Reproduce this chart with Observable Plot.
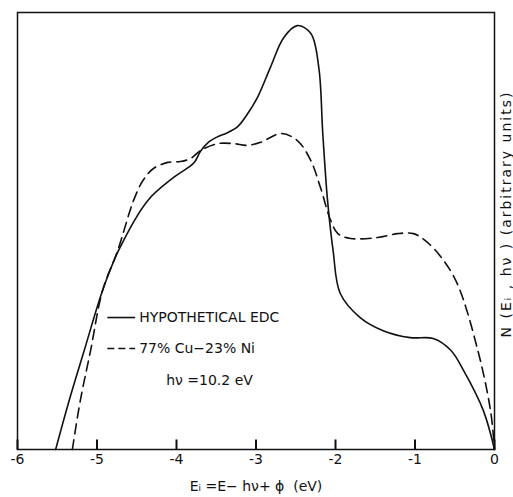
<!DOCTYPE html>
<html>
<head>
<meta charset="utf-8">
<script src="https://cdn.jsdelivr.net/npm/d3@7"></script>
<script src="https://cdn.jsdelivr.net/npm/@observablehq/plot@0.6"></script>
<style>
  body { margin: 0; background: #fff; }
  svg { font-family: "DejaVu Sans", sans-serif; }
</style>
</head>
<body>
<div id="chart"></div>
<script>
// Hypothetical EDC (solid)
const hypoE = [-5.52, -5.35, -5.16, -4.93, -4.73, -4.36, -4.04, -3.78, -3.70, -3.60, -3.48, -3.36, -3.23, -3.11, -2.97, -2.82, -2.65, -2.48, -2.31, -2.21, -2.16, -2.10, -2.03, -1.94, -1.69, -1.40, -1.06, -0.77, -0.55, -0.39, -0.14, 0];
const hypoN = [0, 11.2, 22.7, 36.4, 45.5, 57.0, 62.2, 65.6, 68.2, 70.3, 71.6, 72.5, 73.9, 76.7, 81.0, 87.4, 94.3, 97.0, 95.2, 87.4, 72.3, 57.0, 45.5, 35.7, 30.2, 27.2, 25.6, 25.4, 22.7, 18.1, 8.9, 0];
// 77% Cu - 23% Ni (dashed)
const alloyE = [-5.31, -5.21, -5.08, -4.93, -4.74, -4.54, -4.42, -4.29, -4.11, -3.95, -3.82, -3.70, -3.48, -3.28, -3.11, -2.94, -2.69, -2.48, -2.31, -2.19, -2.06, -1.97, -1.81, -1.47, -1.22, -1.02, -0.87, -0.68, -0.47, -0.21, -0.05, 0];
const alloyN = [0, 11.2, 22.7, 36.4, 45.5, 57.0, 61.6, 64.3, 65.7, 65.9, 66.6, 68.4, 70.0, 70.0, 69.6, 70.3, 72.3, 70.7, 66.1, 60.0, 52.4, 49.4, 48.3, 48.5, 49.4, 49.4, 47.8, 44.2, 38.0, 22.7, 8.9, 0];

const xTicks = [-6, -5, -4, -3, -2, -1, 0];
const legendLabels = ["HYPOTHETICAL EDC", "77% Cu\u221223% Ni", "h\u03BD =10.2 eV"];
const legendE = [-4.87, -4.52, -4.47, -3.04];
const legendN = [30.2, 23.1, 15.8];
const xLabel = "E\u1D62 =E\u2212 h\u03BD+ \u03D5  (eV)";
const yLabel = "N (E\u1D62 , h\u03BD ) (arbitrary units)";
const tickLength = 2.3; // in y units (about 10 px)

const hypo = hypoE.map((e, i) => ({E: e, N: hypoN[i]}));
const alloy = alloyE.map((e, i) => ({E: e, N: alloyN[i]}));
const tickRows = xTicks.map(t => ({E: t, lo: 0, hi: tickLength}));

const legendRows = [
  {x1: legendE[0], x2: legendE[1], y: legendN[0]},
  {x1: legendE[0], x2: legendE[1], y: legendN[1]}
];

const plot = Plot.plot({
  width: 513,
  height: 497,
  marginLeft: 17,
  marginRight: 19,
  marginTop: 12,
  marginBottom: 48,
  style: {fontFamily: "DejaVu Sans, sans-serif", background: "#fff", color: "#111"},
  x: {domain: [-6, 0]},
  y: {domain: [0, 100]},
  marks: [
    Plot.frame({stroke: "#111", strokeWidth: 1.5}),
    Plot.link(tickRows, {x1: "E", x2: "E", y1: "lo", y2: "hi", stroke: "#111", strokeWidth: 2}),
    Plot.axisX(xTicks, {tickSize: 0, tickPadding: 5, fontSize: 14, tickFormat: d => String(d), label: null}),
    Plot.axisY({ticks: [], label: null}),
    Plot.text([xLabel], {text: d => d, frameAnchor: "bottom", dy: 41, fontSize: 14, fill: "#111"}),
    Plot.line(hypo, {x: "E", y: "N", curve: "catmull-rom", stroke: "#111", strokeWidth: 1.6}),
    Plot.line(alloy, {x: "E", y: "N", curve: "catmull-rom", stroke: "#111", strokeWidth: 1.6, strokeDasharray: "10,6"}),
    Plot.link(legendRows.slice(0, 1), {x1: "x1", x2: "x2", y1: "y", y2: "y", stroke: "#111", strokeWidth: 1.6}),
    Plot.link(legendRows.slice(1), {x1: "x1", x2: "x2", y1: "y", y2: "y", stroke: "#111", strokeWidth: 1.6, strokeDasharray: "7,4"}),
    Plot.text(legendLabels.slice(0, 2), {text: d => d, x: legendE[2], y: (d, i) => legendN[i], textAnchor: "start", fontSize: 14, letterSpacing: "1px", fill: "#111"}),
    Plot.text(legendLabels.slice(2), {text: d => d, x: legendE[3], y: legendN[2], textAnchor: "end", fontSize: 14, fill: "#111"})
  ]
});

// right-hand axis title, added as plain SVG text
d3.select(plot).append("text")
  .attr("transform", "translate(506,214) rotate(-90)")
  .attr("text-anchor", "middle")
  .attr("dominant-baseline", "central")
  .attr("font-size", 14)
  .attr("letter-spacing", "2px")
  .attr("fill", "#111")
  .text(yLabel);

document.getElementById("chart").appendChild(plot);
</script>
</body>
</html>
